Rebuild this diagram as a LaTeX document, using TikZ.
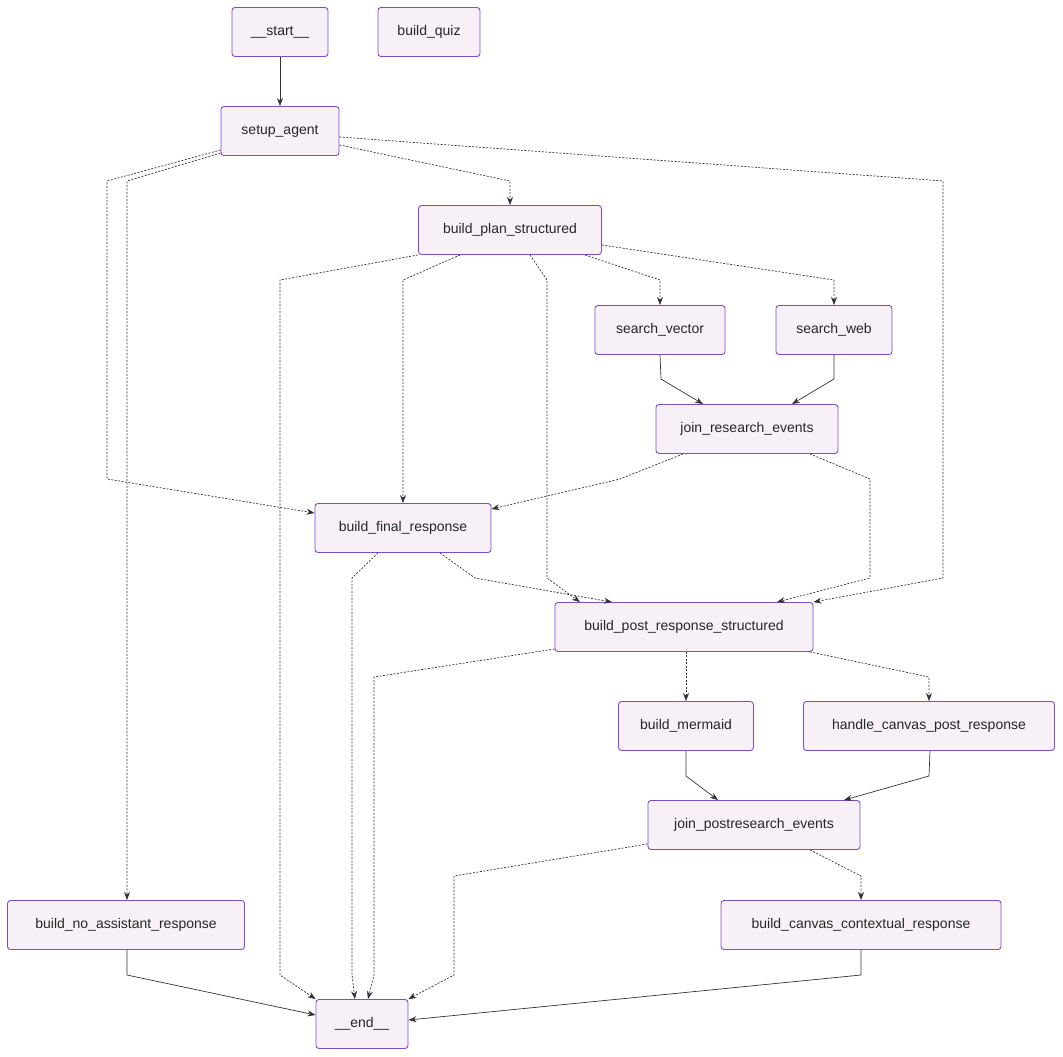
\documentclass[tikz,border=0pt]{standalone}
\usepackage{fontspec}
\setmainfont{Liberation Sans}
\usetikzlibrary{arrows.meta}
\tikzset{
  box/.style={draw=violet!55!blue!70, fill=violet!6, rounded corners=3pt, line width=0.9pt,
    minimum height=49pt, minimum width=#1, font=\fontsize{14}{16}\selectfont, text=black!85},
  flow/.style={draw=black!80, line width=0.7pt, -{Stealth[length=8pt,width=6pt]}},
  cond/.style={flow, dash pattern=on 2pt off 1.5pt}
}
\begin{document}
\begin{tikzpicture}[x=1pt,y=-1pt]
\useasboundingbox (0,0) rectangle (1063,1057);
% nodes
\node[box=96pt] (start) at (280,32) {\_\_start\_\_};
\node[box=102pt] (quiz) at (429,32) {build\_quiz};
\node[box=118pt] (setup) at (280,131) {setup\_agent};
\node[box=183pt] (plan) at (510,230) {build\_plan\_structured};
\node[box=130pt] (vector) at (660,330) {search\_vector};
\node[box=116pt] (web) at (834,330) {search\_web};
\node[box=182pt] (join) at (747,429) {join\_research\_events};
\node[box=176pt] (final) at (403,528) {build\_final\_response};
\node[box=258pt] (post) at (684,627) {build\_post\_response\_structured};
\node[box=135pt] (mermaid) at (686,726) {build\_mermaid};
\node[box=251pt] (canvaspost) at (929,726) {handle\_canvas\_post\_response};
\node[box=212pt] (joinpost) at (754,825) {join\_postresearch\_events};
\node[box=237pt] (noassist) at (126,925) {build\_no\_assistant\_response};
\node[box=280pt] (canvas) at (861,925) {build\_canvas\_contextual\_response};
\node[box=92pt] (end) at (362,1024) {\_\_end\_\_};
% edges
\draw[flow] (start) -- (setup);
\draw[cond] (setup.east |- 0,145) -- (510,181) -- (plan.north);
\draw[cond] (setup.west |- 0,150) -- (107,181) -- (107,479) -- (final.west |- 0,513);
\draw[cond] (setup.west |- 0,153) -- (127,181) -- (noassist.north -| 127,0);
\draw[cond] (setup.east |- 0,137) -- (943,181) -- (943,578) -- (post.north east);
\draw[cond] (plan.south west) -- (280,280) -- (280,975) -- (end.north west);
\draw[cond] (plan.south -| 460,0) -- (403,280) -- (final.north);
\draw[cond] (plan.south -| 530,0) -- (547,280) -- (547,578) -- (post.north -| 580,0);
\draw[cond] (plan.south -| 585,0) -- (660,280) -- (vector.north);
\draw[cond] (plan.east |- 0,245) -- (834,280) -- (web.north);
\draw[flow] (vector.south) -- (661,379) -- (join.north -| 703,0);
\draw[flow] (web.south) -- (834,379) -- (join.north -| 792,0);
\draw[cond] (join.south -| 683,0) -- (620,479) -- (final.east |- 0,509);
\draw[cond] (join.south -| 810,0) -- (870,479) -- (870,578) -- (post.north -| 777,0);
\draw[cond] (final.south -| 378,0) -- (352,578) -- (352,975) -- (end.north -| 355,0);
\draw[cond] (final.south -| 440,0) -- (475,578) -- (post.north -| 612,0);
\draw[cond] (post.west |- 0,649) -- (374,677) -- (374,975) -- (end.north -| 368,0);
\draw[cond] (post.south -| 686,0) -- (mermaid.north);
\draw[cond] (post.south -| 810,0) -- (929,677) -- (canvaspost.north);
\draw[flow] (mermaid.south) -- (686,776) -- (joinpost.north -| 718,0);
\draw[flow] (canvaspost.south -| 930,0) -- (929,776) -- (joinpost.north -| 844,0);
\draw[cond] (joinpost.west |- 0,844) -- (454,876) -- (454,975) -- (end.north east);
\draw[cond] (joinpost.south -| 810,0) -- (861,876) -- (canvas.north);
\draw[flow] (noassist.south -| 127,0) -- (127,975) -- (end.west |- 0,1015);
\draw[flow] (canvas.south) -- (861,975) -- (end.east |- 0,1020);
\end{tikzpicture}
\end{document}
